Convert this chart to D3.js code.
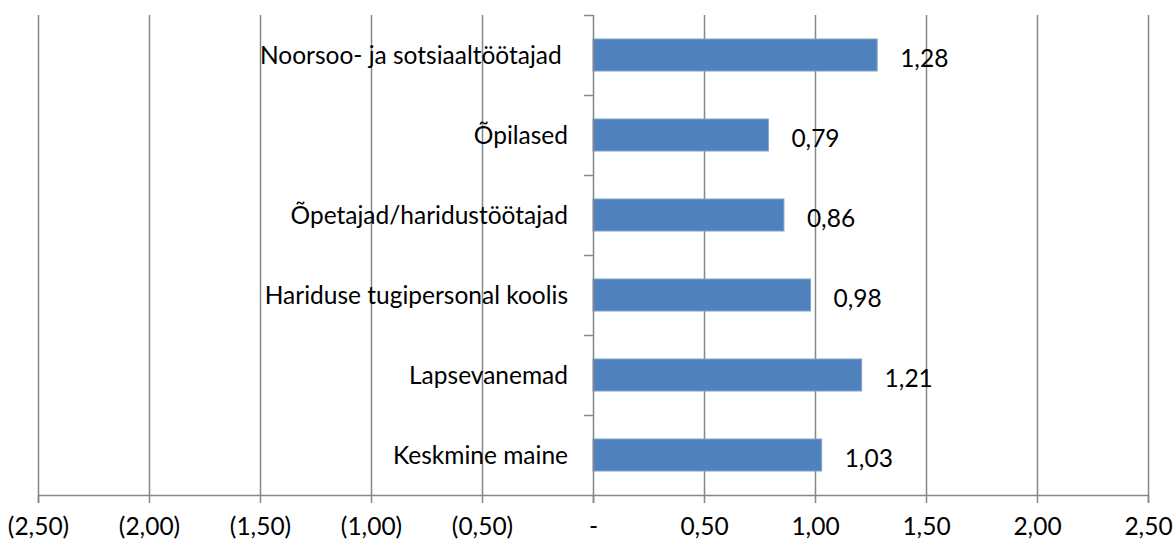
<!DOCTYPE html>
<html>
<head>
<meta charset="utf-8">
<script src="https://cdn.jsdelivr.net/npm/d3@7"></script>
<style>
  body { margin: 0; background: #fff; }
  text { font-family: Lato, "Open Sans", sans-serif; fill: #000; white-space: pre; }
</style>
</head>
<body>
<div id="chart"></div>
<script>
// andmed
const categories = [
  'Noorsoo- ja sotsiaaltöötajad ',
  'Õpilased',
  'Õpetajad/haridustöötajad',
  'Hariduse tugipersonal koolis',
  'Lapsevanemad',
  'Keskmine maine'
];
const values = [1.28, 0.79, 0.86, 0.98, 1.21, 1.03];
const xTicks = [-2.5, -2, -1.5, -1, -0.5, 0, 0.5, 1, 1.5, 2, 2.5];

const margin = { top: 15, right: 25, bottom: 47, left: 38 },
  width = 1173 - margin.left - margin.right,
  height = 542 - margin.top - margin.bottom;

const fmt = d3.format('.2f');
const tickFmt = d => {
  if (d === 0) return '-';
  const s = fmt(Math.abs(d)).replace('.', ',');
  return d < 0 ? '(' + s + ')' : s;
};

const svg = d3.select('#chart').append('svg')
  .attr('width', 1173)
  .attr('height', 542);
const g = svg.append('g')
  .attr('transform', 'translate(' + margin.left + ',' + margin.top + ')');

const x = d3.scaleLinear().domain([-2.5, 2.5]).range([0, width]);
const y = d3.scaleBand().domain(categories).range([0, height]).paddingInner(0.6).paddingOuter(0.3);

// vertikaalsed ruudujooned
g.selectAll('.grid')
  .data(xTicks.filter(d => d !== 0))
  .enter().append('line')
  .attr('x1', d => Math.round(x(d)) + 0.5)
  .attr('x2', d => Math.round(x(d)) + 0.5)
  .attr('y1', 0)
  .attr('y2', height)
  .attr('stroke', '#868686')
  .attr('stroke-width', 1.5);

// x-telg
const xAxis = d3.axisBottom(x).tickValues(xTicks).tickFormat(tickFmt).tickSize(8).tickPadding(15);
const gx = g.append('g')
  .attr('transform', 'translate(0,' + height + ')')
  .call(xAxis);
gx.select('.domain').attr('stroke', '#868686').attr('stroke-width', 1.5);
gx.selectAll('.tick line').attr('stroke', '#868686').attr('stroke-width', 1.5);
gx.selectAll('.tick text')
  .style('font-size', '24.5px')
  .style('font-family', 'Lato, "Open Sans", sans-serif');

// tulbad
g.selectAll('.bar')
  .data(values)
  .enter().append('rect')
  .attr('x', x(0))
  .attr('y', (d, i) => y(categories[i]))
  .attr('width', d => x(d) - x(0))
  .attr('height', y.bandwidth())
  .attr('fill', '#4F81BD')
  .attr('stroke', '#7FA3D3')
  .attr('stroke-width', 1);

// nulltelg koos kategooria jaotistega
g.append('line')
  .attr('x1', Math.round(x(0)) + 0.5)
  .attr('x2', Math.round(x(0)) + 0.5)
  .attr('y1', 0)
  .attr('y2', height + 8)
  .attr('stroke', '#868686')
  .attr('stroke-width', 1.5);
g.selectAll('.ytick')
  .data(d3.range(categories.length))
  .enter().append('line')
  .attr('x1', x(0) - 9)
  .attr('x2', x(0))
  .attr('y1', i => Math.round(i * y.step()) + 0.5)
  .attr('y2', i => Math.round(i * y.step()) + 0.5)
  .attr('stroke', '#868686')
  .attr('stroke-width', 1.5);

// kategooriate nimed
g.selectAll('.cat')
  .data(categories)
  .enter().append('text')
  .attr('x', x(0) - 25)
  .attr('y', d => y(d) + y.bandwidth() / 2)
  .attr('dy', '0.35em')
  .attr('text-anchor', 'end')
  .style('font-size', '24.5px')
  .text(d => d);

// väärtuste sildid
g.selectAll('.val')
  .data(values)
  .enter().append('text')
  .attr('x', d => x(d) + 23)
  .attr('y', (d, i) => y(categories[i]) + y.bandwidth() / 2 + 3)
  .attr('dy', '0.35em')
  .style('font-size', '24.5px')
  .text(d => fmt(d).replace('.', ','));
</script>
</body>
</html>
